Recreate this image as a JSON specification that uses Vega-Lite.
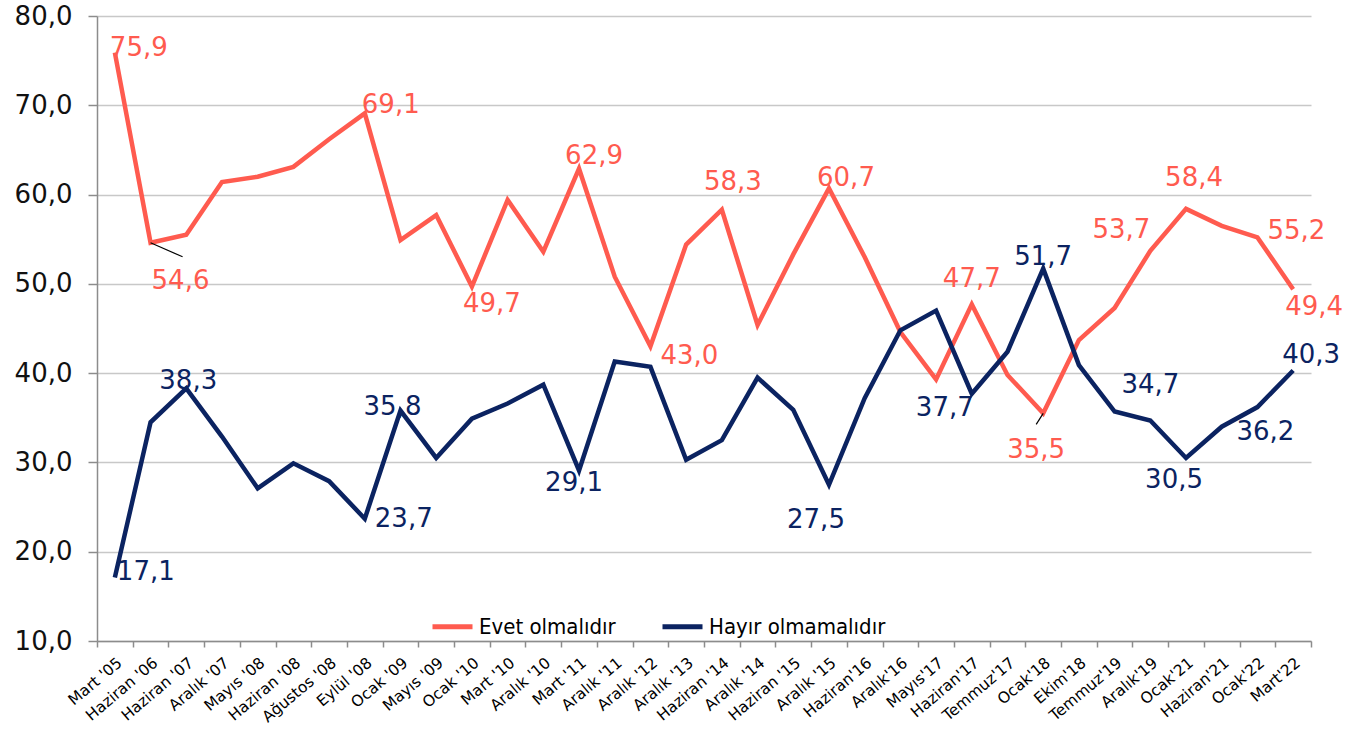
{
  "$schema": "https://vega.github.io/schema/vega-lite/v6.json",
  "width": 1214,
  "height": 625,
  "autosize": {"type": "none"},
  "padding": {"left": 97, "top": 16, "right": 60, "bottom": 88},
  "background": "white",
  "config": {
    "view": {"stroke": null},
    "locale": {"number": {"decimal": ",", "thousands": ".", "grouping": [3], "currency": ["", " TL"]}},
    "text": {"font": "DejaVu Sans", "fontSize": 26, "baseline": "middle"}
  },
  "data": {"values": [
    {"d": "Mart '05", "s": "Evet olmalıdır", "v": 75.9},
    {"d": "Haziran '06", "s": "Evet olmalıdır", "v": 54.6},
    {"d": "Haziran '07", "s": "Evet olmalıdır", "v": 55.5},
    {"d": "Aralık '07", "s": "Evet olmalıdır", "v": 61.4},
    {"d": "Mayıs '08", "s": "Evet olmalıdır", "v": 62.0},
    {"d": "Haziran '08", "s": "Evet olmalıdır", "v": 63.1},
    {"d": "Ağustos '08", "s": "Evet olmalıdır", "v": 66.2},
    {"d": "Eylül '08", "s": "Evet olmalıdır", "v": 69.1},
    {"d": "Ocak '09", "s": "Evet olmalıdır", "v": 54.9},
    {"d": "Mayıs '09", "s": "Evet olmalıdır", "v": 57.7},
    {"d": "Ocak '10", "s": "Evet olmalıdır", "v": 49.7},
    {"d": "Mart '10", "s": "Evet olmalıdır", "v": 59.4},
    {"d": "Aralık '10", "s": "Evet olmalıdır", "v": 53.6},
    {"d": "Mart '11", "s": "Evet olmalıdır", "v": 62.9},
    {"d": "Aralık '11", "s": "Evet olmalıdır", "v": 50.8},
    {"d": "Aralık '12", "s": "Evet olmalıdır", "v": 43.0},
    {"d": "Aralık '13", "s": "Evet olmalıdır", "v": 54.4},
    {"d": "Haziran '14", "s": "Evet olmalıdır", "v": 58.3},
    {"d": "Aralık '14", "s": "Evet olmalıdır", "v": 45.4},
    {"d": "Haziran '15", "s": "Evet olmalıdır", "v": 53.3},
    {"d": "Aralık '15", "s": "Evet olmalıdır", "v": 60.7},
    {"d": "Haziran'16", "s": "Evet olmalıdır", "v": 53.0},
    {"d": "Aralık'16", "s": "Evet olmalıdır", "v": 44.6},
    {"d": "Mayıs'17", "s": "Evet olmalıdır", "v": 39.3},
    {"d": "Haziran'17", "s": "Evet olmalıdır", "v": 47.7},
    {"d": "Temmuz'17", "s": "Evet olmalıdır", "v": 39.8},
    {"d": "Ocak'18", "s": "Evet olmalıdır", "v": 35.5},
    {"d": "Ekim'18", "s": "Evet olmalıdır", "v": 43.7},
    {"d": "Temmuz'19", "s": "Evet olmalıdır", "v": 47.3},
    {"d": "Aralık'19", "s": "Evet olmalıdır", "v": 53.7},
    {"d": "Ocak'21", "s": "Evet olmalıdır", "v": 58.4},
    {"d": "Haziran'21", "s": "Evet olmalıdır", "v": 56.5},
    {"d": "Ocak'22", "s": "Evet olmalıdır", "v": 55.2},
    {"d": "Mart'22", "s": "Evet olmalıdır", "v": 49.4},
    {"d": "Mart '05", "s": "Hayır olmamalıdır", "v": 17.1},
    {"d": "Haziran '06", "s": "Hayır olmamalıdır", "v": 34.5},
    {"d": "Haziran '07", "s": "Hayır olmamalıdır", "v": 38.3},
    {"d": "Aralık '07", "s": "Hayır olmamalıdır", "v": 32.9},
    {"d": "Mayıs '08", "s": "Hayır olmamalıdır", "v": 27.1},
    {"d": "Haziran '08", "s": "Hayır olmamalıdır", "v": 29.9},
    {"d": "Ağustos '08", "s": "Hayır olmamalıdır", "v": 27.9},
    {"d": "Eylül '08", "s": "Hayır olmamalıdır", "v": 23.7},
    {"d": "Ocak '09", "s": "Hayır olmamalıdır", "v": 35.8},
    {"d": "Mayıs '09", "s": "Hayır olmamalıdır", "v": 30.5},
    {"d": "Ocak '10", "s": "Hayır olmamalıdır", "v": 34.9},
    {"d": "Mart '10", "s": "Hayır olmamalıdır", "v": 36.6},
    {"d": "Aralık '10", "s": "Hayır olmamalıdır", "v": 38.7},
    {"d": "Mart '11", "s": "Hayır olmamalıdır", "v": 29.1},
    {"d": "Aralık '11", "s": "Hayır olmamalıdır", "v": 41.3},
    {"d": "Aralık '12", "s": "Hayır olmamalıdır", "v": 40.7},
    {"d": "Aralık '13", "s": "Hayır olmamalıdır", "v": 30.3},
    {"d": "Haziran '14", "s": "Hayır olmamalıdır", "v": 32.5},
    {"d": "Aralık '14", "s": "Hayır olmamalıdır", "v": 39.5},
    {"d": "Haziran '15", "s": "Hayır olmamalıdır", "v": 35.9},
    {"d": "Aralık '15", "s": "Hayır olmamalıdır", "v": 27.5},
    {"d": "Haziran'16", "s": "Hayır olmamalıdır", "v": 37.2},
    {"d": "Aralık'16", "s": "Hayır olmamalıdır", "v": 44.8},
    {"d": "Mayıs'17", "s": "Hayır olmamalıdır", "v": 47.0},
    {"d": "Haziran'17", "s": "Hayır olmamalıdır", "v": 37.7},
    {"d": "Temmuz'17", "s": "Hayır olmamalıdır", "v": 42.4},
    {"d": "Ocak'18", "s": "Hayır olmamalıdır", "v": 51.7},
    {"d": "Ekim'18", "s": "Hayır olmamalıdır", "v": 40.9},
    {"d": "Temmuz'19", "s": "Hayır olmamalıdır", "v": 35.7},
    {"d": "Aralık'19", "s": "Hayır olmamalıdır", "v": 34.7},
    {"d": "Ocak'21", "s": "Hayır olmamalıdır", "v": 30.5},
    {"d": "Haziran'21", "s": "Hayır olmamalıdır", "v": 34.0},
    {"d": "Ocak'22", "s": "Hayır olmamalıdır", "v": 36.2},
    {"d": "Mart'22", "s": "Hayır olmamalıdır", "v": 40.3}
  ]},
  "encoding": {
    "x": {
      "field": "d", "type": "ordinal", "sort": null, "bandPosition": 0.5,
      "scale": {"type": "band", "paddingInner": 0, "paddingOuter": 0},
      "axis": {
        "title": null, "labelAngle": -40, "labelAlign": "right", "labelBaseline": "top",
        "labelFont": "DejaVu Sans", "labelFontSize": 15.5, "labelColor": "#000000",
        "labelPadding": 8, "tickBand": "extent", "tickSize": 6, "tickColor": "#8c8c8c", "tickWidth": 1.5,
        "domainColor": "#8c8c8c", "domainWidth": 1.5, "grid": false, "labelOverlap": false, "labelLimit": 200
      }
    },
    "y": {
      "field": "v", "type": "quantitative",
      "scale": {"domain": [10, 80], "nice": false, "zero": false},
      "axis": {
        "title": null, "values": [10, 20, 30, 40, 50, 60, 70, 80], "format": ".1f",
        "labelFont": "DejaVu Sans", "labelFontSize": 26, "labelColor": "#111111", "labelPadding": 16,
        "tickSize": 9, "tickColor": "#8c8c8c", "tickWidth": 1.5,
        "domainColor": "#8c8c8c", "domainWidth": 1.5,
        "grid": true, "gridColor": "#c8c8c8", "gridWidth": 1.5
      }
    }
  },
  "layer": [
    {
      "mark": {"type": "line", "strokeWidth": 4.5, "strokeJoin": "miter", "strokeCap": "butt"},
      "encoding": {
        "color": {
          "field": "s", "type": "nominal",
          "scale": {"domain": ["Evet olmalıdır", "Hayır olmamalıdır"], "range": ["#FF5B4F", "#0B2361"]},
          "legend": {
            "title": null, "orient": "none", "direction": "horizontal", "legendX": 333, "legendY": 588,
            "symbolType": "stroke", "symbolSize": 1600, "symbolStrokeWidth": 5,
            "labelFont": "DejaVu Sans Condensed", "labelFontSize": 22, "labelColor": "#000000",
            "labelOffset": 4, "columnPadding": 36, "labelLimit": 400
          }
        }
      }
    },
    {"transform": [{"filter": "datum.s=='Evet olmalıdır' && datum.d==\"Haziran '06\""}],
     "mark": {"type": "rule", "color": "#000000", "strokeWidth": 1.2, "x2Offset": 32, "y2Offset": 14},
     "encoding": {"x2": {"field": "d"}, "y2": {"field": "v"}}},
    {"transform": [{"filter": "datum.s=='Evet olmalıdır' && datum.d==\"Ocak'18\""}],
     "mark": {"type": "rule", "color": "#000000", "strokeWidth": 1.2, "x2Offset": -7, "y2Offset": 11},
     "encoding": {"x2": {"field": "d"}, "y2": {"field": "v"}}},

    {"transform": [{"filter": "datum.s=='Evet olmalıdır' && datum.d==\"Mart '05\""}], "mark": {"type": "text", "color": "#FF5B4F", "align": "left", "dx": -5, "dy": -5}, "encoding": {"text": {"field": "v", "format": ".1f"}}},
    {"transform": [{"filter": "datum.s=='Evet olmalıdır' && datum.d==\"Haziran '06\""}], "mark": {"type": "text", "color": "#FF5B4F", "align": "left", "dx": 1, "dy": 38}, "encoding": {"text": {"field": "v", "format": ".1f"}}},
    {"transform": [{"filter": "datum.s=='Evet olmalıdır' && datum.d==\"Eylül '08\""}], "mark": {"type": "text", "color": "#FF5B4F", "align": "left", "dx": -3, "dy": -8}, "encoding": {"text": {"field": "v", "format": ".1f"}}},
    {"transform": [{"filter": "datum.s=='Evet olmalıdır' && datum.d==\"Ocak '10\""}], "mark": {"type": "text", "color": "#FF5B4F", "align": "center", "dx": 20, "dy": 17}, "encoding": {"text": {"field": "v", "format": ".1f"}}},
    {"transform": [{"filter": "datum.s=='Evet olmalıdır' && datum.d==\"Mart '11\""}], "mark": {"type": "text", "color": "#FF5B4F", "align": "center", "dx": 15, "dy": -13}, "encoding": {"text": {"field": "v", "format": ".1f"}}},
    {"transform": [{"filter": "datum.s=='Evet olmalıdır' && datum.d==\"Aralık '12\""}], "mark": {"type": "text", "color": "#FF5B4F", "align": "left", "dx": 10, "dy": 10}, "encoding": {"text": {"field": "v", "format": ".1f"}}},
    {"transform": [{"filter": "datum.s=='Evet olmalıdır' && datum.d==\"Haziran '14\""}], "mark": {"type": "text", "color": "#FF5B4F", "align": "center", "dx": 11, "dy": -28}, "encoding": {"text": {"field": "v", "format": ".1f"}}},
    {"transform": [{"filter": "datum.s=='Evet olmalıdır' && datum.d==\"Aralık '15\""}], "mark": {"type": "text", "color": "#FF5B4F", "align": "center", "dx": 17, "dy": -10}, "encoding": {"text": {"field": "v", "format": ".1f"}}},
    {"transform": [{"filter": "datum.s=='Evet olmalıdır' && datum.d==\"Haziran'17\""}], "mark": {"type": "text", "color": "#FF5B4F", "align": "center", "dx": 0, "dy": -25}, "encoding": {"text": {"field": "v", "format": ".1f"}}},
    {"transform": [{"filter": "datum.s=='Evet olmalıdır' && datum.d==\"Ocak'18\""}], "mark": {"type": "text", "color": "#FF5B4F", "align": "center", "dx": -7, "dy": 37}, "encoding": {"text": {"field": "v", "format": ".1f"}}},
    {"transform": [{"filter": "datum.s=='Evet olmalıdır' && datum.d==\"Aralık'19\""}], "mark": {"type": "text", "color": "#FF5B4F", "align": "center", "dx": -29, "dy": -21}, "encoding": {"text": {"field": "v", "format": ".1f"}}},
    {"transform": [{"filter": "datum.s=='Evet olmalıdır' && datum.d==\"Ocak'21\""}], "mark": {"type": "text", "color": "#FF5B4F", "align": "center", "dx": 8, "dy": -31}, "encoding": {"text": {"field": "v", "format": ".1f"}}},
    {"transform": [{"filter": "datum.s=='Evet olmalıdır' && datum.d==\"Ocak'22\""}], "mark": {"type": "text", "color": "#FF5B4F", "align": "left", "dx": 10, "dy": -6}, "encoding": {"text": {"field": "v", "format": ".1f"}}},
    {"transform": [{"filter": "datum.s=='Evet olmalıdır' && datum.d==\"Mart'22\""}], "mark": {"type": "text", "color": "#FF5B4F", "align": "left", "dx": -8, "dy": 18}, "encoding": {"text": {"field": "v", "format": ".1f"}}},

    {"transform": [{"filter": "datum.s=='Hayır olmamalıdır' && datum.d==\"Mart '05\""}], "mark": {"type": "text", "color": "#0B2361", "align": "left", "dx": 2, "dy": -6}, "encoding": {"text": {"field": "v", "format": ".1f"}}},
    {"transform": [{"filter": "datum.s=='Hayır olmamalıdır' && datum.d==\"Haziran '07\""}], "mark": {"type": "text", "color": "#0B2361", "align": "center", "dx": 2, "dy": -7}, "encoding": {"text": {"field": "v", "format": ".1f"}}},
    {"transform": [{"filter": "datum.s=='Hayır olmamalıdır' && datum.d==\"Eylül '08\""}], "mark": {"type": "text", "color": "#0B2361", "align": "left", "dx": 10, "dy": 0}, "encoding": {"text": {"field": "v", "format": ".1f"}}},
    {"transform": [{"filter": "datum.s=='Hayır olmamalıdır' && datum.d==\"Ocak '09\""}], "mark": {"type": "text", "color": "#0B2361", "align": "center", "dx": -8, "dy": -4}, "encoding": {"text": {"field": "v", "format": ".1f"}}},
    {"transform": [{"filter": "datum.s=='Hayır olmamalıdır' && datum.d==\"Mart '11\""}], "mark": {"type": "text", "color": "#0B2361", "align": "center", "dx": -5, "dy": 13}, "encoding": {"text": {"field": "v", "format": ".1f"}}},
    {"transform": [{"filter": "datum.s=='Hayır olmamalıdır' && datum.d==\"Aralık '15\""}], "mark": {"type": "text", "color": "#0B2361", "align": "center", "dx": -13, "dy": 35}, "encoding": {"text": {"field": "v", "format": ".1f"}}},
    {"transform": [{"filter": "datum.s=='Hayır olmamalıdır' && datum.d==\"Haziran'17\""}], "mark": {"type": "text", "color": "#0B2361", "align": "center", "dx": -27, "dy": 14}, "encoding": {"text": {"field": "v", "format": ".1f"}}},
    {"transform": [{"filter": "datum.s=='Hayır olmamalıdır' && datum.d==\"Ocak'18\""}], "mark": {"type": "text", "color": "#0B2361", "align": "center", "dx": 0, "dy": -12}, "encoding": {"text": {"field": "v", "format": ".1f"}}},
    {"transform": [{"filter": "datum.s=='Hayır olmamalıdır' && datum.d==\"Aralık'19\""}], "mark": {"type": "text", "color": "#0B2361", "align": "center", "dx": 0, "dy": -35}, "encoding": {"text": {"field": "v", "format": ".1f"}}},
    {"transform": [{"filter": "datum.s=='Hayır olmamalıdır' && datum.d==\"Ocak'21\""}], "mark": {"type": "text", "color": "#0B2361", "align": "center", "dx": -12, "dy": 22}, "encoding": {"text": {"field": "v", "format": ".1f"}}},
    {"transform": [{"filter": "datum.s=='Hayır olmamalıdır' && datum.d==\"Ocak'22\""}], "mark": {"type": "text", "color": "#0B2361", "align": "center", "dx": 8, "dy": 25}, "encoding": {"text": {"field": "v", "format": ".1f"}}},
    {"transform": [{"filter": "datum.s=='Hayır olmamalıdır' && datum.d==\"Mart'22\""}], "mark": {"type": "text", "color": "#0B2361", "align": "center", "dx": 18, "dy": -15}, "encoding": {"text": {"field": "v", "format": ".1f"}}}
  ]
}
